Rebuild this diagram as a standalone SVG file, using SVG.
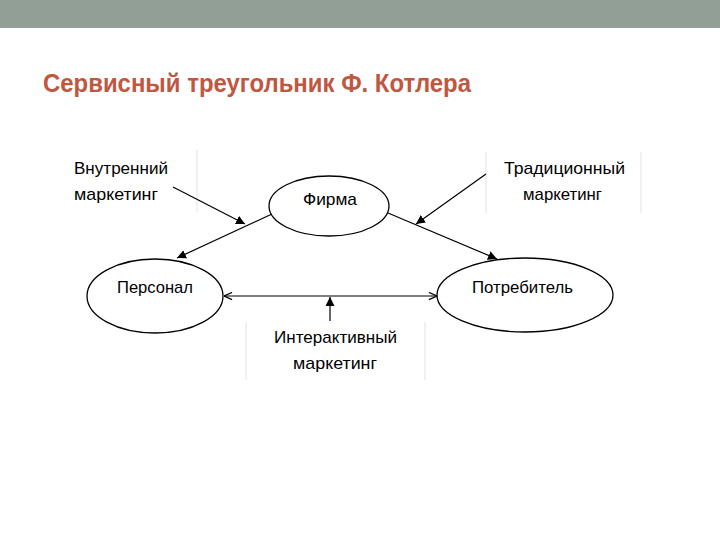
<svg xmlns="http://www.w3.org/2000/svg" width="720" height="540" viewBox="0 0 720 540">
<style>
.lbl{font-family:"Liberation Sans",Arial,sans-serif;font-size:17px;fill:#000}
.node ellipse{fill:#fff;stroke:#000;stroke-width:1.3}
.con line{stroke:#000;stroke-width:1.2;fill:none}
.box{stroke:#e2e2e2;stroke-width:1}
</style>
<defs>
<marker id="fa" viewBox="0 0 10 10" refX="10" refY="5" markerWidth="9" markerHeight="9" markerUnits="userSpaceOnUse" orient="auto"><path d="M0,0 L10,5 L0,10 z" fill="#000"/></marker>
<marker id="oa" viewBox="0 0 10 10" refX="10" refY="5" markerWidth="9" markerHeight="9" markerUnits="userSpaceOnUse" orient="auto-start-reverse"><path d="M1,1 L10,5 L1,9" fill="none" stroke="#000" stroke-width="1.3"/></marker>
</defs>
<rect x="0" y="0" width="720" height="540" fill="#fff"/>
<rect x="0" y="0" width="720" height="28" fill="#919F96"/>
<text x="43" y="92" font-family="'Liberation Sans',Arial,sans-serif" font-weight="bold" font-size="25.5" fill="#C0573F" textLength="428" lengthAdjust="spacingAndGlyphs">Сервисный треугольник Ф. Котлера</text>

<g id="labels-boxes">
<line class="box" x1="197" y1="150" x2="197" y2="212"/>
<line class="box" x1="486" y1="152" x2="486" y2="213"/>
<line class="box" x1="641" y1="152" x2="641" y2="213"/>
<line class="box" x1="246" y1="322" x2="246" y2="380"/>
<line class="box" x1="425" y1="322" x2="425" y2="380"/>
</g>

<g id="internal-marketing">
<text class="lbl" x="74" y="174" textLength="94" lengthAdjust="spacingAndGlyphs">Внутренний</text>
<text class="lbl" x="74" y="200" textLength="84" lengthAdjust="spacingAndGlyphs">маркетинг</text>
</g>
<g id="traditional-marketing">
<text class="lbl" x="504" y="174" textLength="121" lengthAdjust="spacingAndGlyphs">Традиционный</text>
<text class="lbl" x="523" y="200" textLength="79" lengthAdjust="spacingAndGlyphs">маркетинг</text>
</g>
<g id="interactive-marketing">
<text class="lbl" x="274" y="343" textLength="123" lengthAdjust="spacingAndGlyphs">Интерактивный</text>
<text class="lbl" x="293" y="369" textLength="84" lengthAdjust="spacingAndGlyphs">маркетинг</text>
</g>

<g class="con" id="connectors">
<line x1="272" y1="214" x2="177" y2="258" marker-end="url(#fa)"/>
<line x1="388" y1="213" x2="497" y2="259" marker-end="url(#fa)"/>
<line x1="173" y1="187" x2="245" y2="224" marker-end="url(#fa)"/>
<line x1="486" y1="174" x2="416" y2="224" marker-end="url(#fa)"/>
<line x1="224" y1="296" x2="437" y2="296" marker-start="url(#oa)" marker-end="url(#oa)"/>
<line x1="330" y1="321" x2="330" y2="297" marker-end="url(#fa)"/>
</g>

<g class="node" id="firma">
<ellipse cx="329" cy="206" rx="60" ry="30"/>
<text class="lbl" x="303" y="205" textLength="54" lengthAdjust="spacingAndGlyphs">Фирма</text>
</g>
<g class="node" id="personal">
<ellipse cx="155" cy="296" rx="68" ry="37"/>
<text class="lbl" x="117" y="293" textLength="76" lengthAdjust="spacingAndGlyphs">Персонал</text>
</g>
<g class="node" id="consumer">
<ellipse cx="525" cy="295" rx="88" ry="37"/>
<text class="lbl" x="472" y="293" textLength="101" lengthAdjust="spacingAndGlyphs">Потребитель</text>
</g>
</svg>
